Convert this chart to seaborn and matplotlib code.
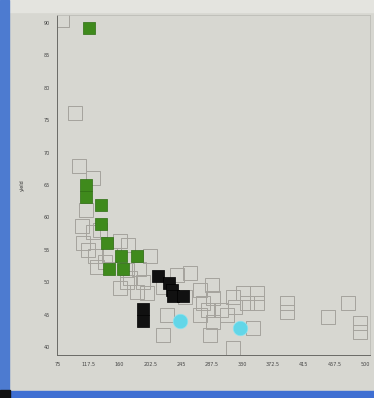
import matplotlib
matplotlib.use("Agg")
import matplotlib.pyplot as plt
import matplotlib.patches as mpatches
import seaborn as sns
import pandas as pd

# Reference cloud (open squares)
other_x = [80.5, 98.5, 104.1, 123.5, 113.8, 108.2, 123.5, 109.6, 133.1, 160.8,
           171.9, 126.2, 202.4, 129.0, 170.5, 187.1, 170.5, 192.7, 160.8, 184.4,
           198.2, 220.4, 239.7, 257.7, 174.7, 271.6, 288.2, 289.6, 275.7, 282.6,
           300.6, 317.3, 331.1, 350.5, 336.6, 350.5, 320.0, 308.9, 289.6, 285.4,
           344.9, 317.3, 220.4, 225.9, 250.8, 392.0, 392.0, 448.8, 476.5, 493.1,
           493.1, 271.6, 147.0, 140.1, 116.5]
other_y = [90.5, 76.1, 67.9, 66.1, 61.1, 58.7, 57.8, 56.0, 58.1, 56.4,
           55.7, 54.0, 54.0, 52.3, 51.9, 52.0, 50.0, 50.0, 49.1, 48.5,
           48.3, 49.3, 51.1, 51.4, 50.6, 48.8, 49.6, 47.6, 46.8, 45.7,
           45.7, 47.7, 48.3, 48.3, 46.8, 46.8, 46.2, 44.9, 43.9, 41.9,
           42.9, 39.9, 41.9, 44.9, 47.7, 46.8, 45.4, 44.6, 46.8, 43.7,
           42.3, 44.9, 54.2, 53.1, 55.0]

# Group A (green)
green_x = [117.9, 113.8, 113.8, 134.5, 134.5, 142.8, 162.2, 184.4, 145.6, 165.0]
green_y = [89.2, 65.0, 63.1, 61.9, 59.0, 56.0, 54.0, 54.0, 52.0, 52.0]

# Group B (black)
black_x = [213.4, 228.7, 232.8, 234.2, 248.0, 192.7, 192.7]
black_y = [51.0, 49.9, 48.8, 47.9, 47.9, 45.9, 44.0]

# Group C (cyan)
cyan_x = [243.9, 326.9]
cyan_y = [44.0, 42.9]

x_ticks = [75, 117.5, 160, 202.5, 245, 287.5, 330, 372.5, 415, 457.5, 500]
y_ticks = [40, 45, 50, 55, 60, 65, 70, 75, 80, 85, 90]

bg = "#d7d7d1"
sns.set_theme(style="white", rc={"axes.facecolor": bg, "figure.facecolor": bg})

fig = plt.figure(figsize=(3.74, 3.98), dpi=100)
ax = fig.add_axes([57 / 374, 43 / 398, 313 / 374, 340 / 398])

# Window chrome: light title area, blue strips on the left and bottom
fig.patches.append(mpatches.Rectangle((0, 1 - 12 / 398), 1, 12 / 398, transform=fig.transFigure,
                                      color="#e4e4df", zorder=0))
fig.patches.append(mpatches.Rectangle((0, 0), 9 / 374, 1, transform=fig.transFigure,
                                      color="#4d7bd0", zorder=0))
fig.patches.append(mpatches.Rectangle((0, 0), 1, 7 / 398, transform=fig.transFigure,
                                      color="#3f6fd2", zorder=0))
fig.patches.append(mpatches.Rectangle((0, 0), 10 / 374, 8 / 398, transform=fig.transFigure,
                                      color="#111111", zorder=1))

df_other = pd.DataFrame({"x": other_x, "y": other_y})
df_green = pd.DataFrame({"x": green_x, "y": green_y})
df_black = pd.DataFrame({"x": black_x, "y": black_y})
df_cyan = pd.DataFrame({"x": cyan_x, "y": cyan_y})

sns.scatterplot(data=df_other, x="x", y="y", ax=ax, marker="s", s=100,
                facecolor="none", edgecolor="#a5a39d", linewidth=0.7, zorder=2)
sns.scatterplot(data=df_green, x="x", y="y", ax=ax, marker="s", s=72,
                color="#3f8a1c", edgecolor="#2e6e12", linewidth=0.5, zorder=3)
sns.scatterplot(data=df_black, x="x", y="y", ax=ax, marker="s", s=80,
                color="#111111", edgecolor="#000000", linewidth=0.5, zorder=3)
sns.scatterplot(data=df_cyan, x="x", y="y", ax=ax, marker="o", s=110,
                color="#62d6e8", edgecolor="#8fe3ef", linewidth=0.5, zorder=3)

ax.set_xlim(73.6, 506.9)
ax.set_ylim(38.77, 91.23)
ax.set_xticks(x_ticks)
ax.set_xticklabels([f"{v:g}" for v in x_ticks])
ax.set_yticks(y_ticks)
ax.tick_params(axis="both", labelsize=3.5, colors="#444444", length=3, width=0.6,
               direction="out", pad=2)
ax.set_xlabel("dose", fontsize=3.5, color="#a04020", labelpad=17)
ax.set_ylabel("yield", fontsize=3.5, color="#333333", labelpad=14)

for side in ["left", "bottom"]:
    ax.spines[side].set_color("#6a6a66")
    ax.spines[side].set_linewidth(0.7)
for side in ["top", "right"]:
    ax.spines[side].set_color("#bdbdb7")
    ax.spines[side].set_linewidth(0.6)

fig.savefig("out.png", dpi=100, facecolor=bg)
